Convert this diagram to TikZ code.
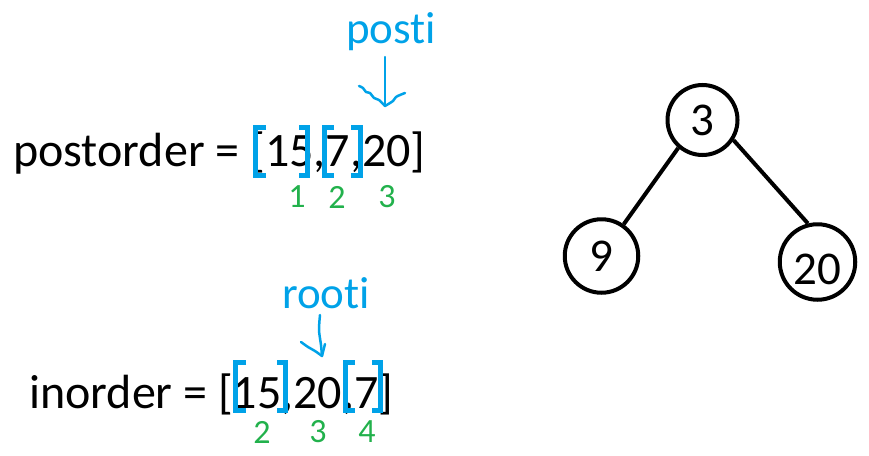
\documentclass[tikz,border=0pt]{standalone}
\usepackage{fontspec}
\setmainfont[Ligatures=NoCommon]{Carlito}
\definecolor{hlblue}{RGB}{0,162,232}
\definecolor{idxgreen}{RGB}{34,177,76}
\begin{document}
\begin{tikzpicture}[x=1pt,y=-1pt,
  big/.style={font=\fontsize{48}{58}\selectfont, inner sep=0pt},
  lbl/.style={text=hlblue, font=\fontsize{45}{54}\selectfont, inner sep=0pt},
  idx/.style={text=idxgreen, font=\fontsize{34}{40}\selectfont, inner sep=0pt},
  brk/.style={draw=hlblue, line width=5pt, line join=miter},
  hand/.style={draw=hlblue, line width=2.5pt, line cap=round, line join=round},
  tnode/.style={circle, draw, line width=4pt, font=\fontsize{47}{56}\selectfont, inner sep=0pt},
  tedge/.style={line width=4pt}]
\useasboundingbox (0,0) rectangle (869,455);

% main texts
\node[big, anchor=base west] (post) at (13,166) {postorder = [15,7,20]};
\node[big, anchor=base west] (inord) at (29,408) {inorder = [15,20,7]};

% pointer labels
\node[lbl, anchor=base] (posti) at (391,43) {posti};
\node[lbl, anchor=base] (rooti) at (326,308) {rooti};

% index numbers
\node[idx] (p1) at (297,197) {1};
\node[idx] (p2) at (337,197) {2};
\node[idx] (p3) at (387,197) {3};
\node[idx] (i2) at (262,432) {2};
\node[idx] (i3) at (318,432) {3};
\node[idx] (i4) at (367,432) {4};

% blue brackets, postorder
\draw[brk] (266,127.5) -- (255.5,127.5) -- (255.5,175.5) -- (266,175.5);
\draw[brk] (299,127.5) -- (307.5,127.5) -- (307.5,175.5) -- (299,175.5);
\draw[brk] (334,127.5) -- (324.5,127.5) -- (324.5,175.5) -- (334,175.5);
\draw[brk] (351,127.5) -- (360.5,127.5) -- (360.5,175.5) -- (351,175.5);

% blue brackets, inorder
\draw[brk] (246,362.5) -- (235.5,362.5) -- (235.5,410.5) -- (246,410.5);
\draw[brk] (277,362.5) -- (285.5,362.5) -- (285.5,410.5) -- (277,410.5);
\draw[brk] (355,362.5) -- (345.5,362.5) -- (345.5,410.5) -- (355,410.5);
\draw[brk] (372,362.5) -- (380.5,362.5) -- (380.5,410.5) -- (372,410.5);

% hand-drawn arrows
\coordinate (ptop) at (385,57);
\coordinate (ptip) at (385,106);
\draw[hand] (ptop) -- (ptip);
\draw[hand] plot[smooth] coordinates {(359,86) (363,88) (366,92) (370,93) (374,98) (379,100) (385,106)};
\draw[hand] plot[smooth] coordinates {(385,106) (390,103) (393,101) (396,97) (400,95) (405,93)};

\coordinate (rtop) at (320,315);
\coordinate (rtip) at (322,356);
\draw[hand] plot[smooth] coordinates {(rtop) (319,330) (321,345) (rtip)};
\draw[hand] plot[smooth] coordinates {(301,342) (308,347) (315,351) (rtip)};
\draw[hand] (rtip) -- (325,344);

% tree
\node[tnode, minimum size=70pt] (n3) at (702.5,120) {3};
\node[tnode, minimum size=73.5pt] (n9) at (601.5,256) {9};
\node[tnode, minimum size=75.5pt, text height=46pt] (n20) at (817.5,262) {20};
\draw[tedge] (n3.229) -- (n9.55);
\draw[tedge] (n3.-33) -- (n20.104);
\end{tikzpicture}
\end{document}
